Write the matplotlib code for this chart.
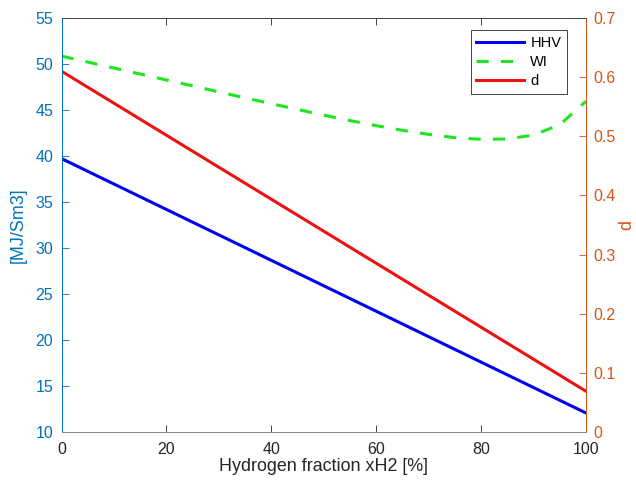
import numpy as np
import matplotlib
matplotlib.use("Agg")
import matplotlib.pyplot as plt

plt.rcParams['font.family'] = ['Liberation Sans', 'DejaVu Sans']

# Hydrogen fraction in the blend [%]
x_h2 = [0, 5, 10, 15, 20, 25, 30, 35, 40, 45, 50,
        55, 60, 65, 70, 75, 80, 85, 90, 95, 100]

# Higher heating value [MJ/Sm3] (linear in the mixing fraction)
hhv_x = [0, 100]
hhv = [39.72, 12.07]

# Wobbe index [MJ/Sm3]
wi = [50.86, 50.21, 49.56, 48.91, 48.26, 47.62, 46.97, 46.32, 45.68, 45.06, 44.44,
      43.85, 43.30, 42.79, 42.35, 41.99, 41.81, 41.85, 42.28, 43.40, 45.95]

# Relative density [-]
d_x = [0, 100]
d = [0.610, 0.069]

LEFT_COLOR = '#0072bd'
RIGHT_COLOR = '#d95319'
AX_COLOR = '#262626'

fig = plt.figure(figsize=(6.36, 4.86), dpi=100)
ax = fig.add_axes([0.0967, 0.111, 0.8247, 0.852])
ax2 = ax.twinx()

l_hhv, = ax.plot(hhv_x, hhv, color='#0000f5', lw=2.2, label='HHV')
l_wi, = ax.plot(x_h2, wi, color='#1ee61e', lw=2.2, dashes=(4, 4), label='WI')
l_d, = ax2.plot(d_x, d, color='#ee1111', lw=2.2, label='d')

ax.set_xlim(0, 100)
ax.set_ylim(10, 55)
ax.set_xticks(np.arange(0, 101, 20))
ax.set_yticks(np.arange(10, 56, 5))
ax2.set_ylim(0, 0.7)
ax2.set_yticks([0, 0.1, 0.2, 0.3, 0.4, 0.5, 0.6, 0.7])
ax2.set_yticklabels(['0', '0.1', '0.2', '0.3', '0.4', '0.5', '0.6', '0.7'])

ax.tick_params(axis='x', direction='in', top=True, length=5, width=0.6,
               colors=AX_COLOR, labelsize=11.5, pad=7)
ax.tick_params(axis='y', direction='in', length=5, width=0.6,
               colors=LEFT_COLOR, labelsize=11.5, pad=6)
ax2.tick_params(axis='y', direction='in', length=5, width=0.6,
                colors=RIGHT_COLOR, labelsize=11.5, pad=5)

for a in (ax, ax2):
    a.spines['top'].set_color('#444444')
    a.spines['bottom'].set_color('#888888')
    a.spines['left'].set_color(LEFT_COLOR)
    a.spines['right'].set_color(RIGHT_COLOR)
    for s in a.spines.values():
        s.set_linewidth(0.7)

ax.set_xlabel('Hydrogen fraction xH2 [%]', fontsize=12.9, color=AX_COLOR, labelpad=1)
ax.set_ylabel('[MJ/Sm3]', fontsize=12.9, color=LEFT_COLOR)
ax.yaxis.set_label_coords(-0.066, 0.5)
ax2.set_ylabel('d', fontsize=12.9, color=RIGHT_COLOR)
ax2.yaxis.set_label_coords(1.062, 0.5)

leg = ax2.legend([l_hhv, l_wi, l_d], ['HHV', 'WI', 'd'], loc='upper right',
                 bbox_to_anchor=(0.964, 0.971), borderaxespad=0, fontsize=10.5,
                 fancybox=False, framealpha=1, edgecolor=AX_COLOR,
                 handlelength=3.3, handletextpad=0.4, labelspacing=0.35,
                 borderpad=0.4)
leg.get_frame().set_linewidth(0.6)

fig.savefig('out.png', dpi=100)
